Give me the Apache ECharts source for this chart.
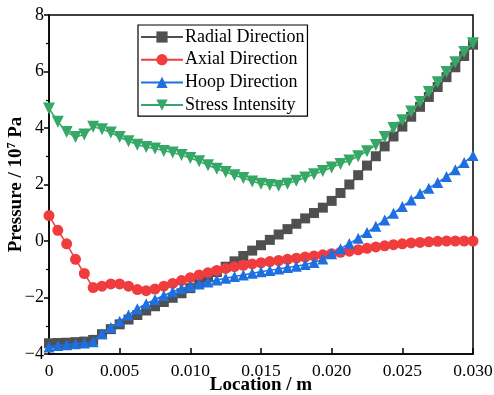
<!DOCTYPE html>
<html>
<head>
<meta charset="utf-8">
<script src="https://cdn.jsdelivr.net/npm/echarts@6/dist/echarts.min.js"></script>
<style>
html,body{margin:0;padding:0;background:#fff;}
#chart{width:494px;height:395px;}
</style>
</head>
<body>
<div id="chart"></div>
<script>
var locations = [0, 0.000625, 0.00125, 0.001875, 0.0025, 0.003125, 0.00375, 0.004375, 0.005, 0.005625,
  0.00625, 0.006875, 0.0075, 0.008125, 0.00875, 0.009375, 0.01, 0.010625, 0.01125, 0.011875,
  0.0125, 0.013125, 0.01375, 0.014375, 0.015, 0.015625, 0.01625, 0.016875, 0.0175, 0.018125,
  0.01875, 0.019375, 0.02, 0.020625, 0.02125, 0.021875, 0.0225, 0.023125, 0.02375, 0.024375,
  0.025, 0.025625, 0.02625, 0.026875, 0.0275, 0.028125, 0.02875, 0.029375, 0.03];
var radial = [-3.62, -3.61, -3.6, -3.58, -3.56, -3.5, -3.3, -3.12, -2.95, -2.78,
  -2.62, -2.46, -2.31, -2.16, -2.01, -1.85, -1.67, -1.48, -1.29, -1.1,
  -0.91, -0.72, -0.53, -0.34, -0.15, 0.04, 0.23, 0.42, 0.61, 0.8,
  0.99, 1.18, 1.42, 1.7, 2.0, 2.33, 2.67, 3.0, 3.35, 3.7,
  4.05, 4.4, 4.75, 5.1, 5.45, 5.8, 6.15, 6.55, 6.95];
var axial = [0.9, 0.38, -0.1, -0.65, -1.15, -1.65, -1.6, -1.52, -1.52, -1.6,
  -1.72, -1.76, -1.7, -1.6, -1.5, -1.4, -1.3, -1.2, -1.12, -1.04,
  -0.97, -0.91, -0.86, -0.81, -0.77, -0.73, -0.69, -0.65, -0.61, -0.57,
  -0.53, -0.49, -0.45, -0.4, -0.36, -0.31, -0.26, -0.21, -0.17, -0.13,
  -0.1, -0.07, -0.05, -0.03, -0.01, 0.0, 0.0, 0.0, 0.0];
var hoop = [-3.75, -3.7, -3.67, -3.64, -3.61, -3.57, -3.28, -3.06, -2.84, -2.62,
  -2.4, -2.22, -2.07, -1.93, -1.8, -1.68, -1.6, -1.52, -1.45, -1.38,
  -1.32, -1.26, -1.2, -1.14, -1.09, -1.04, -0.99, -0.94, -0.89, -0.83,
  -0.76, -0.64, -0.45, -0.27, -0.09, 0.1, 0.3, 0.52, 0.74, 0.98,
  1.22, 1.45, 1.68, 1.87, 2.07, 2.28, 2.52, 2.78, 3.03];
var stress = [4.69, 4.22, 3.86, 3.68, 3.77, 4.04, 3.96, 3.84, 3.68, 3.53,
  3.41, 3.33, 3.27, 3.19, 3.13, 3.04, 2.94, 2.82, 2.68, 2.56,
  2.44, 2.33, 2.23, 2.11, 2.03, 1.98, 1.96, 2.03, 2.13, 2.25,
  2.36, 2.48, 2.6, 2.73, 2.85, 3.0, 3.18, 3.4, 3.68, 4.0,
  4.27, 4.58, 4.92, 5.27, 5.62, 5.98, 6.33, 6.69, 7.0];
var seriesNames = ['Radial Direction', 'Axial Direction', 'Hoop Direction', 'Stress Intensity'];
var seriesColors = ['#505050', '#f03c3c', '#1e6fe0', '#35a866'];

function pairs(ys) { return ys.map(function (y, i) { return [locations[i], y]; }); }

var FONT = '"Liberation Serif", "Times New Roman", serif';
var chart = echarts.init(document.getElementById('chart'));
var symbols = ['rect', 'circle', 'triangle', 'triangle'];
var symbolSizes = [10, 11, 11, 12];
var rotates = [0, 0, 0, 180];
var dataSets = [radial, axial, hoop, stress];

chart.setOption({
  animation: false,
  backgroundColor: '#fff',
  grid: { left: 49, right: 21, top: 15, bottom: 41, containLabel: false, outerBoundsMode: 'none',
    show: true, borderColor: '#000', borderWidth: 1.5, backgroundColor: 'transparent' },
  legend: {
    orient: 'vertical', left: 138, top: 25,
    itemWidth: 42, itemHeight: 14, itemGap: 4.7,
    padding: [3, 3, 2, 2],
    borderColor: '#000', borderWidth: 1.2, borderRadius: 0,
    textStyle: { fontFamily: FONT, fontSize: 18, lineHeight: 18, color: '#000', padding: [0, 0, 0, -3] },
    data: seriesNames
  },
  xAxis: {
    type: 'value', min: 0, max: 0.03, interval: 0.005,
    name: 'Location / m', nameLocation: 'middle', nameGap: 22, nameMoveOverlap: false,
    nameTextStyle: { fontFamily: FONT, fontSize: 19, fontWeight: 'bold', color: '#000' },
    axisLine: { onZero: false, lineStyle: { color: '#000', width: 1.5 } },
    axisTick: { inside: true, length: 6, lineStyle: { color: '#000', width: 1.5 } },
    axisLabel: { fontFamily: FONT, fontSize: 17.5, color: '#000', margin: 8,
      formatter: function (v) { return v === 0 ? '0' : v.toFixed(3); } },
    splitLine: { show: false }
  },
  yAxis: {
    type: 'value', min: -4, max: 8, interval: 2,
    name: '{a|Pressure / 10}{s|7}{a| Pa}', nameLocation: 'middle', nameGap: 22, nameRotate: 90, nameMoveOverlap: false,
    nameTextStyle: { rich: {
      a: { fontFamily: FONT, fontSize: 19, fontWeight: 'bold', color: '#000' },
      s: { fontFamily: FONT, fontSize: 12, fontWeight: 'bold', color: '#000', verticalAlign: 'top', padding: [0, 0, 9, 0] }
    } },
    axisLine: { onZero: false, lineStyle: { color: '#000', width: 1.5 } },
    axisTick: { inside: false, length: 5, lineStyle: { color: '#000', width: 1.5 } },
    minorTick: { show: true, splitNumber: 2, length: 3, lineStyle: { color: '#000', width: 1.2 } },
    axisLabel: { fontFamily: FONT, fontSize: 18, color: '#000', margin: 5,
      formatter: function (v) { return String(v).replace('-', '\u2212'); } },
    splitLine: { show: false }
  },
  series: seriesNames.map(function (n, i) {
    return {
      name: n, type: 'line', data: pairs(dataSets[i]),
      symbol: symbols[i], symbolSize: symbolSizes[i], symbolRotate: rotates[i],
      showAllSymbol: true,
      lineStyle: { color: seriesColors[i], width: 1.5 },
      itemStyle: { color: seriesColors[i], borderWidth: 0 },
      z: 2 + i
    };
  })
});
</script>
</body>
</html>
